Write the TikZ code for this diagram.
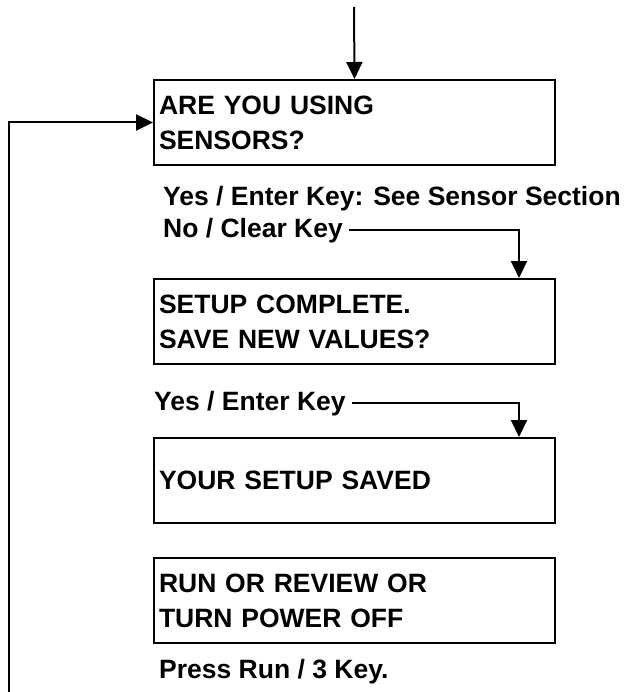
\documentclass[tikz,border=0pt]{standalone}
\usepackage{fontspec}
\setmainfont{Liberation Sans}
\usetikzlibrary{arrows.meta}

\tikzset{
  screen/.style={draw, line width=2pt, anchor=north west, text width=391pt,
    inner xsep=5pt, minimum height=85pt, align=left,
    font=\bfseries\fontsize{26.5}{35}\selectfont},
  keytext/.style={anchor=base west, inner xsep=6pt, inner ysep=3pt,
    font=\bfseries\fontsize{26.5}{35}\selectfont},
  flow/.style={line width=2pt, -{Triangle[length=17pt,width=16pt]}},
}

\begin{document}
\begin{tikzpicture}[x=1pt,y=-1pt]

\newcommand\LX{153}
\newcommand\DROP{-37pt}

\useasboundingbox (0,0) rectangle (634,692);

%% screens
\node[screen] (sensors) at (\LX, 79) {ARE YOU USING\\SENSORS?};
\node[screen] (complete) at (\LX, 278) {SETUP COMPLETE.\\SAVE NEW VALUES?};
\node[screen] (saved) at (\LX, 437) {YOUR SETUP SAVED};
\node[screen] (runrev) at (\LX, 557) {RUN OR REVIEW OR\\TURN POWER OFF};

%% key texts
\node[keytext] (yessensor) at (157, 206) {Yes / Enter Key: See Sensor Section};
\node[keytext] (noclear) at (157, 237) {No / Clear Key};
\node[keytext] (yesenter) at (148, 410) {Yes / Enter Key};
\node[keytext] (pressrun) at (153, 678) {Press Run / 3 Key.};

%% connectors
\coordinate (entry) at (354, 7);
\coordinate (loopback) at (9, 692);

\draw[flow] (entry) -- (sensors.north);

\draw[flow] (noclear.east) -| ([xshift=\DROP]complete.north east);

\draw[flow] (yesenter.east) -| ([xshift=\DROP]saved.north east);

\draw[flow] (loopback) |- (sensors.west);

\end{tikzpicture}
\end{document}
